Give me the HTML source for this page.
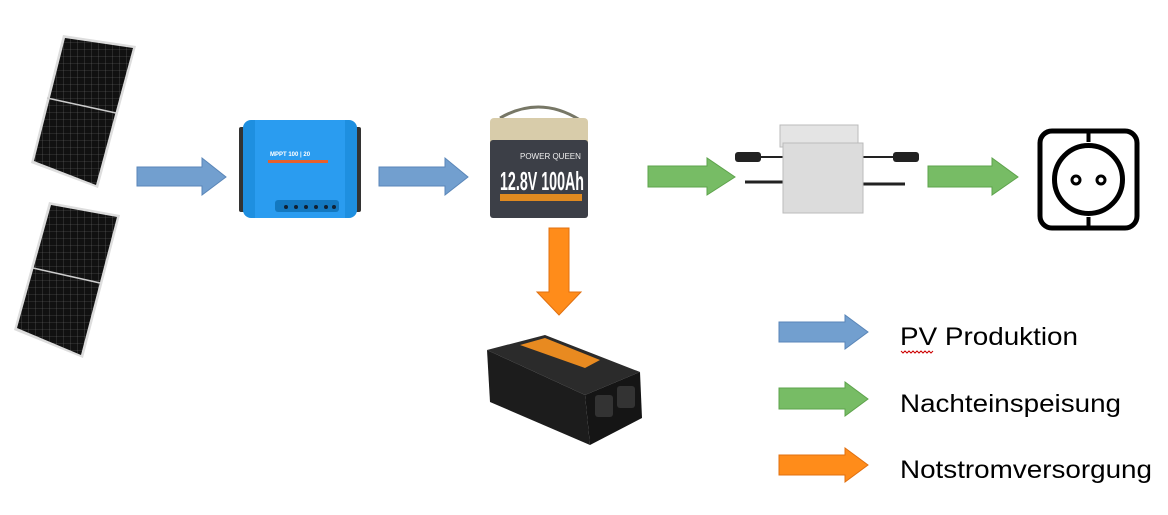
<!DOCTYPE html>
<html><head><meta charset="utf-8"><style>
html,body{margin:0;padding:0;background:#fff;}
svg{display:block;}
</style></head><body>
<svg width="1168" height="515" viewBox="0 0 1168 515" xmlns="http://www.w3.org/2000/svg" font-family="Liberation Sans, sans-serif">
<defs>
<pattern id="cells" width="7" height="7" patternUnits="userSpaceOnUse">
<rect width="7" height="7" fill="#111"/><path d="M0 0H7M0 0V7" stroke="#666" stroke-width="0.6"/>
</pattern>
</defs>
<!-- solar panels -->
<polygon points="63,35 136,46 98,188 31,163" fill="#ddd"/>
<polygon points="65,38 133,48 96,185 34,161" fill="url(#cells)"/>
<line x1="47" y1="98" x2="116" y2="113" stroke="#ccc" stroke-width="1.5"/>
<polygon points="49,202 120,215 83,358 14,330" fill="#ddd"/>
<polygon points="51,205 117,217 81,355 17,328" fill="url(#cells)"/>
<line x1="33" y1="268" x2="100" y2="283" stroke="#ccc" stroke-width="1.5"/>

<!-- arrows -->
<polygon points="137,167 202,167 202,158 226,177 202,195 202,186 137,186" fill="#729fcf" stroke="#5a86b8" stroke-width="1"/>
<polygon points="379,167 445,167 445,158 468,177 445,195 445,186 379,186" fill="#729fcf" stroke="#5a86b8" stroke-width="1"/>
<polygon points="648,166 707,166 707,158 735,177 707,195 707,187 648,187" fill="#77bc65" stroke="#5ea34c" stroke-width="1"/>
<polygon points="928,166 992,166 992,158 1018,177 992,195 992,187 928,187" fill="#77bc65" stroke="#5ea34c" stroke-width="1"/>
<polygon points="549,228 569,228 569,292 581,292 559,315 537,292 549,292" fill="#ff8c1a" stroke="#e07010" stroke-width="1"/>

<!-- charge controller -->
<rect x="239" y="127" width="8" height="85" rx="2" fill="#333"/>
<rect x="353" y="127" width="8" height="85" rx="2" fill="#333"/>
<rect x="243" y="120" width="114" height="98" rx="8" fill="#1e8fe0"/>
<rect x="255" y="120" width="90" height="98" fill="#2a9cf0"/>
<text x="270" y="156" font-size="6" fill="#fff" font-weight="bold">MPPT 100 | 20</text>
<rect x="268" y="160" width="60" height="3" fill="#e8602a"/>
<rect x="275" y="200" width="64" height="12" rx="3" fill="#1378c0"/>
<g fill="#123">
<circle cx="286" cy="207" r="2"/><circle cx="296" cy="207" r="2"/><circle cx="306" cy="207" r="2"/><circle cx="316" cy="207" r="2"/><circle cx="326" cy="207" r="2"/><circle cx="334" cy="207" r="2"/></g>

<!-- battery -->
<path d="M500 118 Q540 95 580 120" stroke="#776" stroke-width="3" fill="none"/>
<rect x="490" y="118" width="98" height="28" rx="4" fill="#d8ccaa"/>
<rect x="490" y="140" width="98" height="78" rx="3" fill="#3c3f47"/>
<text x="520" y="159" font-size="8" fill="#eee">POWER QUEEN</text>
<text x="500" y="190" font-size="26" font-weight="bold" fill="#fff" textLength="84" lengthAdjust="spacingAndGlyphs">12.8V 100Ah</text>
<rect x="500" y="194" width="82" height="7" fill="#e08a20"/>

<!-- micro inverter -->
<rect x="735" y="152" width="26" height="10" rx="3" fill="#222"/>
<line x1="760" y1="157" x2="785" y2="157" stroke="#222" stroke-width="2"/>
<rect x="893" y="152" width="26" height="10" rx="3" fill="#222"/>
<line x1="863" y1="157" x2="895" y2="157" stroke="#222" stroke-width="2"/>
<path d="M745 182 H785 M860 184 H905" stroke="#222" stroke-width="3"/>
<rect x="780" y="125" width="78" height="22" fill="#e4e4e4" stroke="#bbb"/>
<rect x="783" y="143" width="80" height="70" fill="#dcdcdc" stroke="#bbb"/>

<!-- socket -->
<rect x="1040" y="131" width="97" height="97" rx="12" fill="#fff" stroke="#000" stroke-width="5"/>
<circle cx="1088.5" cy="179.5" r="34" fill="none" stroke="#000" stroke-width="5"/>
<line x1="1088.5" y1="131" x2="1088.5" y2="142" stroke="#000" stroke-width="4"/>
<line x1="1088.5" y1="217" x2="1088.5" y2="228" stroke="#000" stroke-width="4"/>
<circle cx="1076" cy="180" r="4" fill="none" stroke="#000" stroke-width="3"/>
<circle cx="1101" cy="180" r="4" fill="none" stroke="#000" stroke-width="3"/>

<!-- power inverter -->
<polygon points="487,350 545,335 640,372 585,395" fill="#2b2b2b"/>
<polygon points="520,345 545,338 600,360 585,368" fill="#e88a20"/>
<polygon points="487,350 585,395 590,445 490,402" fill="#1c1c1c"/>
<polygon points="585,395 640,372 642,418 590,445" fill="#151515"/>
<rect x="595" y="395" width="18" height="22" rx="3" fill="#333"/>
<rect x="617" y="386" width="18" height="22" rx="3" fill="#333"/>

<!-- legend -->
<polygon points="779,322 845,322 845,315 868,332 845,349 845,342 779,342" fill="#729fcf" stroke="#5a86b8"/>
<polygon points="779,388 845,388 845,382 868,399 845,416 845,409 779,409" fill="#77bc65" stroke="#5ea34c"/>
<polygon points="779,455 845,455 845,448 868,465 845,482 845,475 779,475" fill="#ff8c1a" stroke="#e07010"/>
<text x="900" y="345" font-size="25" fill="#000" textLength="178" lengthAdjust="spacingAndGlyphs">PV Produktion</text>
<path d="M901 351 l2 2 l2 -2 l2 2 l2 -2 l2 2 l2 -2 l2 2 l2 -2 l2 2 l2 -2 l2 2 l2 -2 l2 2 l2 -2 l2 2 l2 -2" stroke="#c00" fill="none" stroke-width="1"/>
<text x="900" y="412" font-size="25" fill="#000" textLength="221" lengthAdjust="spacingAndGlyphs">Nachteinspeisung</text>
<text x="900" y="478" font-size="25" fill="#000" textLength="252" lengthAdjust="spacingAndGlyphs">Notstromversorgung</text>
</svg>
</body></html>
